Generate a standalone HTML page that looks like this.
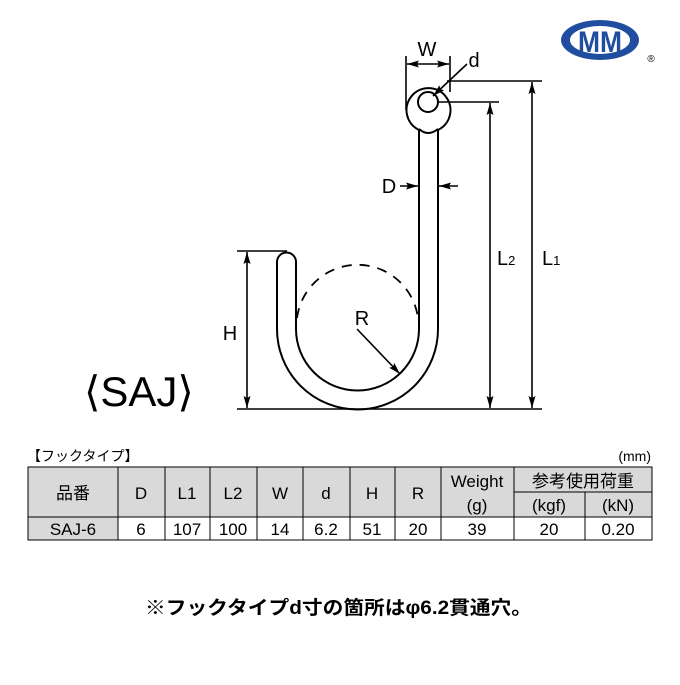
<!DOCTYPE html>
<html><head><meta charset="utf-8"><style>
body{margin:0;background:#fff;width:680px;height:680px;overflow:hidden}
svg text{font-family:"Liberation Sans","Noto Sans CJK JP",sans-serif;fill:#000}
</style></head><body>
<svg width="680" height="680" viewBox="0 0 680 680" xmlns="http://www.w3.org/2000/svg">
<defs><marker id="a" viewBox="0 0 12 8" refX="12" refY="4" markerWidth="12" markerHeight="8" markerUnits="userSpaceOnUse" orient="auto-start-reverse"><path d="M0,0.5 L12,4 L0,7.5 L2,4 Z" fill="#000"/></marker></defs>
<!-- logo -->
<ellipse cx="600" cy="40" rx="39" ry="20" fill="#1f4ea0"/>
<ellipse cx="600" cy="40" rx="30" ry="14" fill="#fff"/>
<text x="600" y="52" font-size="30" font-weight="bold" text-anchor="middle" fill="#1f4ea0" style="fill:#1f4ea0" textLength="44" lengthAdjust="spacingAndGlyphs">MM</text>
<text x="651" y="62" font-size="10" text-anchor="middle">®</text>
<!-- hook -->
<g fill="none" stroke="#000" stroke-width="2">
<path d="M419,130 A22,22 0 1 1 438,130"/>
<circle cx="428" cy="102" r="10"/>
<path d="M419,129 Q428,137 438,129"/>
<path d="M438,130 L438,329 A80.5,80.5 0 0 1 277,329 L277,262 A9.5,9.5 0 0 1 296,262 L296,329 A61.5,61.5 0 0 0 419,329 L419,130"/>
<path d="M297,318 A61,61 0 0 1 418,318" stroke-dasharray="10,8" stroke-width="1.8"/>
</g>
<g stroke="#000" stroke-width="1.6" fill="none">
<line x1="237" y1="409" x2="542" y2="409"/>
<line x1="447" y1="81" x2="542" y2="81"/>
<line x1="438" y1="102" x2="499" y2="102"/>
<line x1="237" y1="251" x2="287" y2="251"/>
<line x1="532" y1="82" x2="532" y2="408" marker-start="url(#a)" marker-end="url(#a)"/>
<line x1="490" y1="103" x2="490" y2="408" marker-start="url(#a)" marker-end="url(#a)"/>
<line x1="247" y1="252" x2="247" y2="408" marker-start="url(#a)" marker-end="url(#a)"/>
<line x1="406" y1="56" x2="406" y2="110"/>
<line x1="450" y1="56" x2="450" y2="92"/>
<line x1="407" y1="64" x2="449" y2="64" marker-start="url(#a)" marker-end="url(#a)"/>
<line x1="467" y1="64" x2="433" y2="96" marker-end="url(#a)"/>
<line x1="400" y1="186" x2="418" y2="186" marker-end="url(#a)"/>
<line x1="458" y1="186" x2="439" y2="186" marker-end="url(#a)"/>
<line x1="357" y1="329" x2="400" y2="374" marker-end="url(#a)"/>
</g>
<text x="427" y="56" font-size="20" text-anchor="middle">W</text>
<text x="474" y="67" font-size="20" text-anchor="middle">d</text>
<text x="389" y="193" font-size="20" text-anchor="middle">D</text>
<text x="362" y="325" font-size="20" text-anchor="middle">R</text>
<text x="230" y="340" font-size="20" text-anchor="middle">H</text>
<text x="497" y="265" font-size="20">L<tspan font-size="13">2</tspan></text>
<text x="542" y="265" font-size="20">L<tspan font-size="13">1</tspan></text>
<text x="84" y="406" font-size="42">⟨SAJ⟩</text>
<!-- table -->
<text x="27" y="461" font-size="14">【フックタイプ】</text>
<text x="651" y="461" font-size="14" text-anchor="end">(mm)</text>
<g stroke="#000" stroke-width="1">
<rect x="28" y="467" width="624" height="50" fill="#d9d9d9"/>
<rect x="28" y="517" width="90" height="23" fill="#d9d9d9"/>
<rect x="118" y="517" width="534" height="23" fill="#fff"/>
<line x1="514" y1="492" x2="652" y2="492"/>
<g fill="none">
<line x1="118" y1="467" x2="118" y2="540"/><line x1="165" y1="467" x2="165" y2="540"/>
<line x1="210" y1="467" x2="210" y2="540"/><line x1="257" y1="467" x2="257" y2="540"/>
<line x1="303" y1="467" x2="303" y2="540"/><line x1="350" y1="467" x2="350" y2="540"/>
<line x1="395" y1="467" x2="395" y2="540"/><line x1="441" y1="467" x2="441" y2="540"/>
<line x1="514" y1="467" x2="514" y2="540"/><line x1="585" y1="492" x2="585" y2="540"/>
</g></g>
<g font-size="17" text-anchor="middle">
<text x="73" y="499">品番</text><text x="141" y="499">D</text><text x="187" y="499">L1</text>
<text x="233" y="499">L2</text><text x="280" y="499">W</text><text x="326" y="499">d</text>
<text x="372" y="499">H</text><text x="418" y="499">R</text>
<text x="477" y="487">Weight</text><text x="477" y="511">(g)</text>
<text x="583" y="487">参考使用荷重</text><text x="549" y="511">(kgf)</text><text x="618" y="511">(kN)</text>
<text x="73" y="535">SAJ-6</text><text x="141" y="535">6</text><text x="187" y="535">107</text>
<text x="233" y="535">100</text><text x="280" y="535">14</text><text x="326" y="535">6.2</text>
<text x="372" y="535">51</text><text x="418" y="535">20</text><text x="477" y="535">39</text>
<text x="549" y="535">20</text><text x="618" y="535">0.20</text>
</g>
<text x="145" y="614" font-size="19" font-weight="bold" textLength="387" lengthAdjust="spacingAndGlyphs">※フックタイプd寸の箇所はφ6.2貫通穴。</text>
</svg>
</body></html>
